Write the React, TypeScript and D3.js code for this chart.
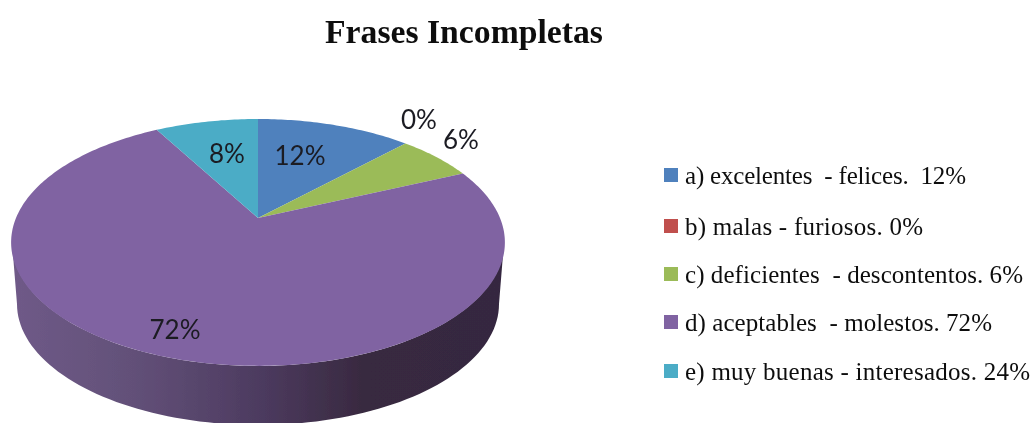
import React from "react";
import * as d3 from "d3";

const categories = [
  "a) excelentes  - felices.  12%",
  "b) malas - furiosos. 0%",
  "c) deficientes  - descontentos. 6%",
  "d) aceptables  - molestos. 72%",
  "e) muy buenas - interesados. 24%",
];
const values = [12, 0, 6, 72, 8];
const sliceLabels = ["12%", "0%", "6%", "72%", "8%"];
const colors = ["#4f81bd", "#c0504d", "#9bbb59", "#8064a2", "#4bacc6"];

const W = 1034, H = 423;
const CX = 258, AY = 218, R = 242, B = 118.6, K = 0.198;
const labelAt = [[300, 155], [419, 119], [461, 139], [175, 329], [227, 153]];
const legendX = 664, legendY = [175, 226, 274, 322, 371];
const legendWidth = [281, 238, 338, 307, 345];

const project = (a: number): [number, number] => {
  const x = Math.sin(a), z = -Math.cos(a), w = 1 - K * z;
  return [CX + (R * x) / w, AY + (B * z) / w];
};

const arcs = d3.pie<number>().sort(null).value((d) => d)(values);
const line = d3.line();
const slicePath = (s: number, e: number) => {
  const n = Math.max(2, Math.ceil((e - s) * 60));
  const pts = d3.range(n + 1).map((i) => project(s + ((e - s) * i) / n));
  return line([[CX, AY], ...pts]) + "Z";
};

// Side wall: the lower rim of the disc, extruded downward
const sideTopY = 242.5, sideTopRy = 123.5, sideTopRx = 246;
const sideBotY = 304, sideBotRy = 121, sideBotRx = 241;
const sideAngles = d3.range(0, 181, 2).map((d) => (d * Math.PI) / 180);
const sidePath =
  line([
    ...sideAngles.map((a) => [CX + sideTopRx * Math.cos(a), sideTopY + sideTopRy * Math.sin(a)] as [number, number]),
    ...sideAngles.slice().reverse().map((a) => [CX + sideBotRx * Math.cos(a), sideBotY + sideBotRy * Math.sin(a)] as [number, number]),
  ]) + "Z";

export default function App() {
  return (
    <svg width={W} height={H} viewBox={`0 0 ${W} ${H}`} style={{ position: "absolute", left: 0, top: 0, background: "#fff" }}>
      <defs>
        <linearGradient id="side" x1="12" x2="504" y1="0" y2="0" gradientUnits="userSpaceOnUse">
          <stop offset="0" stopColor="#6f5a88" />
          <stop offset="0.25" stopColor="#625078" />
          <stop offset="0.5" stopColor="#4d3b60" />
          <stop offset="0.72" stopColor="#38293f" />
          <stop offset="1" stopColor="#352840" />
        </linearGradient>
        <filter id="soft"><feGaussianBlur stdDeviation="0.45" /></filter>
      </defs>
      <g filter="url(#soft)">
        <path d={sidePath} fill="url(#side)" />
        {arcs.map((a, i) =>
          a.endAngle > a.startAngle ? <path key={i} d={slicePath(a.startAngle, a.endAngle)} fill={colors[i]} /> : null
        )}
        {sliceLabels.map((t, i) => (
          <text key={t} x={labelAt[i][0]} y={labelAt[i][1]} textAnchor="middle" dominantBaseline="central"
            fontFamily="Lato, 'Noto Sans', sans-serif" fontSize={26} fill="#1a1a22">{t}</text>
        ))}
        <text x={464} y={31} textAnchor="middle" dominantBaseline="central" fontFamily="'Liberation Serif', serif"
          fontWeight="bold" fontSize={33.7} fill="#111">Frases Incompletas</text>
        {categories.map((c, i) => (
          <g key={c}>
            <rect x={legendX} y={legendY[i] - 7} width={14} height={14} fill={colors[i]} />
            <text x={685} y={legendY[i]} dominantBaseline="central" fontFamily="'Liberation Serif', serif"
              fontSize={25} fill="#111" textLength={legendWidth[i]} lengthAdjust="spacing" style={{ whiteSpace: "pre" }}>{c}</text>
          </g>
        ))}
      </g>
    </svg>
  );
}
